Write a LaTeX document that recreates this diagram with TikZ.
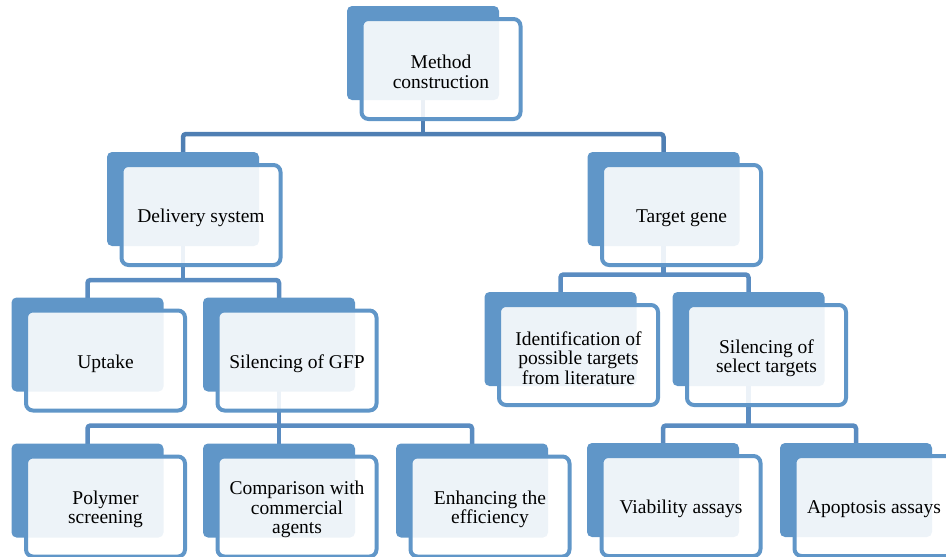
\documentclass[tikz,border=0pt]{standalone}
\usepackage{fontspec}
\setmainfont{Liberation Serif}
\usetikzlibrary{backgrounds}
\definecolor{boxblue}{HTML}{6096C8}
\definecolor{linkdark}{HTML}{4F7FB3}
\definecolor{linkblue}{HTML}{5A8CC1}
\tikzset{
 backbox/.style={fill=boxblue, rounded corners=5pt, minimum width=152pt, minimum height=94pt, inner sep=0pt, draw=none},
 frontbox/.style={draw=boxblue, line width=4pt, fill=white, fill opacity=0.89, rounded corners=7pt, minimum width=159pt, minimum height=100pt, inner sep=0pt},
 boxtext/.style={inner sep=0pt, align=center, font=\fontsize{19.5}{19.5}\selectfont, text=black},
 conn/.style={draw=linkblue, line width=4.5pt, rounded corners=3pt},
}
\newcommand\smartbox[4]{\node[backbox] (#1b) at (#2,#3) {}; \node[frontbox] (#1) at ([shift={(18,16)}]#1b.center) {}; \node[boxtext] (#1t) at ([shift={(0,3)}]#1.center) {#4};}
\begin{document}
\begin{tikzpicture}[x=1pt,y=-1pt]
\useasboundingbox (0,0) rectangle (946,557);
\clip (0,0) rectangle (946,557);
\smartbox{m}{423}{53}{Method\\construction}
\smartbox{d}{183}{199}{Delivery system}
\smartbox{t}{663.5}{199}{Target gene}
\smartbox{u}{87.5}{344.5}{Uptake}
\smartbox{g}{279}{344.5}{Silencing of GFP}
\smartbox{i}{560.5}{339}{Identification of\\possible targets\\from literature}
\smartbox{s}{748.5}{339}{Silencing of\\select targets}
\smartbox{p}{87.5}{490.5}{Polymer\\screening}
\smartbox{c}{279}{490.5}{Comparison with\\commercial\\agents}
\smartbox{e}{472}{490.5}{Enhancing the\\efficiency}
\smartbox{v}{663}{490}{Viability assays}
\smartbox{a}{856}{490}{Apoptosis assays}
\coordinate (bar1) at (0,134);
\coordinate (bar2) at (0,280);
\coordinate (bar3) at (0,274.5);
\coordinate (bar4) at (0,425.5);
\begin{scope}[on background layer]
\draw[conn,draw=linkdark] (mb.center) -- (mb.center |- bar1);
\draw[conn,draw=linkdark] (db.center) -- (db.center |- bar1) -- (tb.center |- bar1) -- (tb.center);
\draw[conn] (db.center) -- (db.center |- bar2);
\draw[conn] (ub.center) -- (ub.center |- bar2) -- (gb.center |- bar2) -- (gb.center);
\draw[conn] (tb.center) -- (tb.center |- bar3);
\draw[conn] (ib.center) -- (ib.center |- bar3) -- (sb.center |- bar3) -- (sb.center);
\draw[conn] (gb.center) -- (cb.center);
\draw[conn] (pb.center) -- (pb.center |- bar4) -- (eb.center |- bar4) -- (eb.center);
\draw[conn] (sb.center) -- (sb.center |- bar4);
\draw[conn] (vb.center) -- (vb.center |- bar4) -- (ab.center |- bar4) -- (ab.center);
\end{scope}
\end{tikzpicture}
\end{document}
